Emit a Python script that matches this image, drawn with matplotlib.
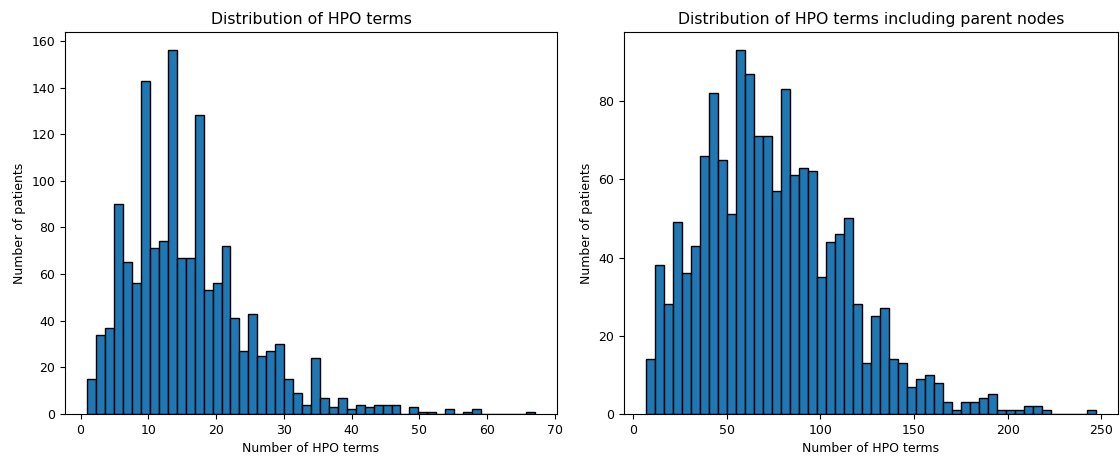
import numpy as np
import matplotlib
matplotlib.use("Agg")
import matplotlib.pyplot as plt

# Left histogram: HPO terms per patient (50 bins from 1 to 67)
left_range = (1, 67)
left_counts = [15, 34, 37, 90, 65, 56, 143, 71, 74, 156,
               67, 67, 128, 53, 56, 72, 41, 27, 43, 25,
               27, 30, 15, 9, 4, 24, 7, 3, 7, 2,
               4, 3, 4, 4, 4, 0, 3, 1, 1, 0,
               2, 0, 1, 2, 0, 0, 0, 0, 0, 1]

# Right histogram: HPO terms including parent nodes (50 bins from 7 to 247)
right_range = (7, 247)
right_counts = [14, 38, 28, 49, 36, 43, 66, 82, 65, 51,
                93, 87, 71, 71, 57, 83, 61, 63, 62, 35,
                44, 46, 50, 28, 13, 25, 27, 14, 13, 7,
                9, 10, 8, 3, 1, 3, 3, 4, 5, 1,
                1, 1, 2, 2, 1, 0, 0, 0, 0, 1]

titles = ["Distribution of HPO terms", "Distribution of HPO terms including parent nodes"]
xlabel = "Number of HPO terms"
ylabel = "Number of patients"

fig = plt.figure(figsize=(11.2, 4.57), dpi=100)
ax1 = fig.add_axes([65/1120, 43/457, 492/1120, 382/457])
ax2 = fig.add_axes([624/1120, 43/457, 494/1120, 382/457])

for ax, rng, counts, title in [(ax1, left_range, left_counts, titles[0]),
                               (ax2, right_range, right_counts, titles[1])]:
    edges = np.linspace(rng[0], rng[1], len(counts) + 1)
    centers = (edges[:-1] + edges[1:]) / 2
    ax.hist(centers, bins=edges, weights=counts, color="#1f77b4",
            edgecolor="black", linewidth=1)
    ax.set_title(title, fontsize=11.3, pad=6)
    ax.set_xlabel(xlabel, fontsize=9)
    ax.set_ylabel(ylabel, fontsize=9)
    ax.tick_params(labelsize=9)

fig.savefig("out.png", dpi=100)
